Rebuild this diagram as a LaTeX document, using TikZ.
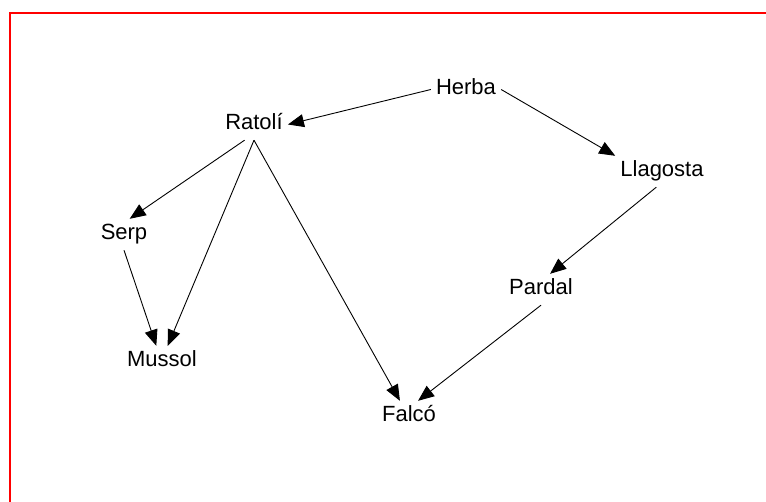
\documentclass[tikz,border=0pt]{standalone}
\usepackage{fontspec}
\setmainfont{Liberation Sans}
\usetikzlibrary{arrows.meta}

\begin{document}
\begin{tikzpicture}[x=1pt, y=-1pt, >={Triangle[length=16pt, width=13pt]}]
    \tikzstyle{animal} = [anchor=base, inner sep=5pt, text height=16pt, text depth=5pt, font=\fontsize{22}{26}\selectfont]
    \tikzstyle{line} = [draw, ->, line width=0.9pt]
    \tikzstyle{frame} = [draw=red, line width=1.6pt]

    \useasboundingbox (0,0) rectangle (766,502);
    \path [frame] (10,502) -- (10,13) -- (766,13);

    % Nodes
    \node [animal] (herba) at (466,95) {Herba};
    \node [animal] (ratoli) at (254,130) {Ratolí};
    \node [animal] (llagosta) at (662,177) {Llagosta};
    \node [animal] (serp) at (124,240) {Serp};
    \node [animal] (pardal) at (541,295) {Pardal};
    \node [animal] (mussol) at (162,367) {Mussol};
    \node [animal] (falco) at (409,422) {Falcó};

    % Paths
    \path [line] (herba.west) -- (ratoli.east);
    \path [line] (herba.east) -- (llagosta.north west);
    \path [line] (ratoli.239) -- (serp.70);
    \path [line] (ratoli.south) -- (mussol.70);
    \path [line] (ratoli.south) -- (falco.120);
    \path [line] (serp.south) -- (mussol.110);
    \path [line] (llagosta.250) -- (pardal.60);
    \path [line] (pardal.south) -- (falco.60);

\end{tikzpicture}
\end{document}
